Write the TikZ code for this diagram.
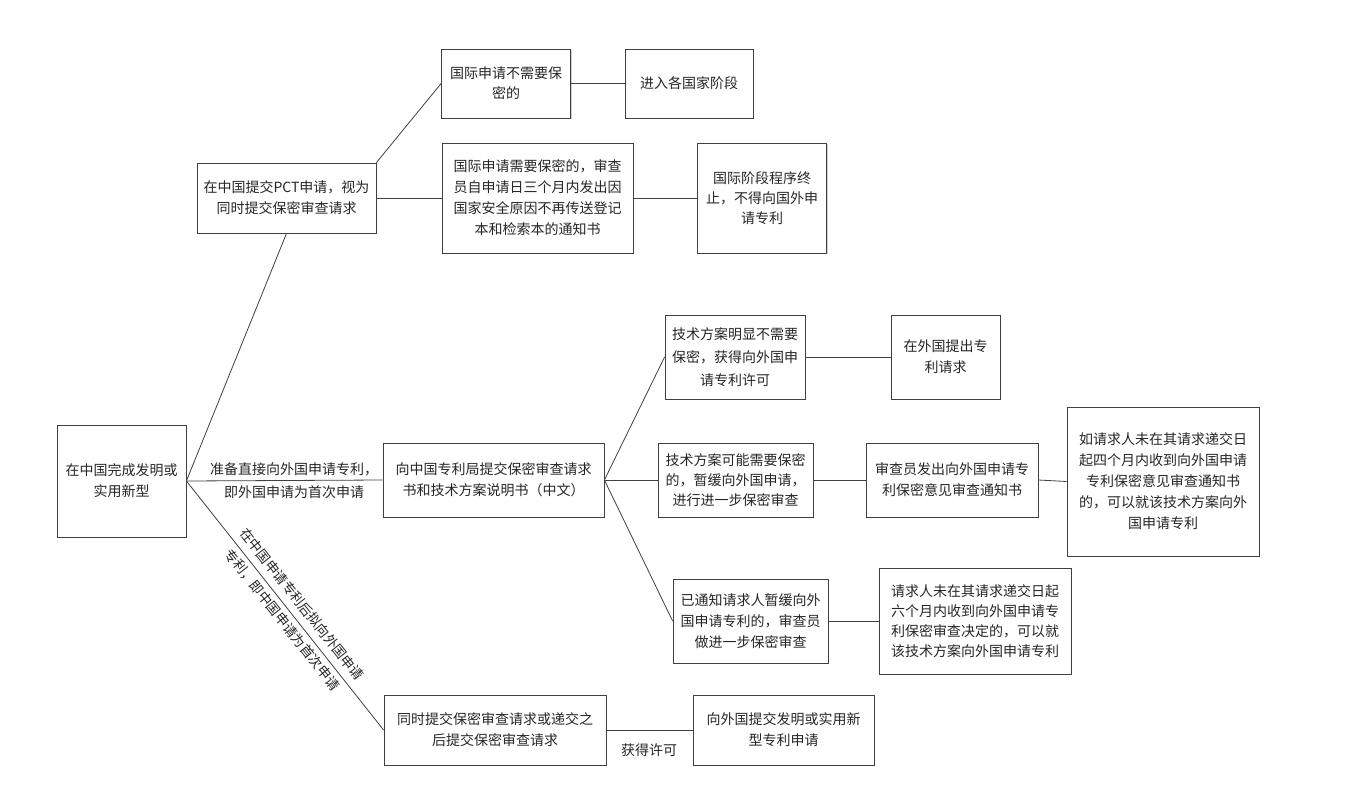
\documentclass[tikz,border=0pt]{standalone}
\usepackage{fontspec}
\newfontfamily\cjk{Noto Sans CJK SC}
\usetikzlibrary{shadows}
\begin{document}
\begin{tikzpicture}[x=1pt,y=-1pt,
  box/.style={draw=black!75, line width=0.8pt, fill=white, align=center, inner sep=1pt,
    font=\cjk\fontsize{14}{21}\selectfont, text=black!85,
    drop shadow={shadow xshift=1.3pt, shadow yshift=-1.3pt, opacity=0.3, fill=black!60}},
  lab/.style={align=center, inner sep=0pt, font=\cjk\fontsize{14}{21}\selectfont, text=black!85},
  conn/.style={draw=black!75, line width=0.8pt}]
\useasboundingbox[fill=white] (0,0) rectangle (1351,810);

\node[box, minimum width=129pt, minimum height=112pt] (root) at (121.5,481) {在中国完成发明或\\实用新型};
\node[box, minimum width=179pt, minimum height=70pt] (pct) at (286.5,198) {在中国提交PCT申请，视为\\同时提交保密审查请求};
\node[box, minimum width=129pt, minimum height=69pt, font=\cjk\fontsize{14}{20}\selectfont] (a1) at (506,83.5) {国际申请不需要保\\密的};
\node[box, minimum width=128pt, minimum height=69pt] (a2) at (689,83.5) {进入各国家阶段};
\node[box, minimum width=191pt, minimum height=110pt] (b1) at (537.5,198) {国际申请需要保密的，审查\\员自申请日三个月内发出因\\国家安全原因不再传送登记\\本和检索本的通知书};
\node[box, minimum width=129pt, minimum height=110pt, font=\cjk\fontsize{14}{20}\selectfont] (b2) at (762,198) {国际阶段程序终\\止，不得向国外申\\请专利};
\node[box, minimum width=221pt, minimum height=74pt] (mid) at (493.5,480) {向中国专利局提交保密审查请求\\书和技术方案说明书（中文）};
\node[box, minimum width=140pt, minimum height=84pt, font=\cjk\fontsize{14}{23}\selectfont] (c1) at (735,357) {技术方案明显不需要\\保密，获得向外国申\\请专利许可};
\node[box, minimum width=109pt, minimum height=84pt] (c2) at (945.5,357) {在外国提出专\\利请求};
\node[box, minimum width=155pt, minimum height=74pt, font=\cjk\fontsize{14}{20}\selectfont] (d1) at (735.5,480) {技术方案可能需要保密\\的，暂缓向外国申请，\\进行进一步保密审查};
\node[box, minimum width=172pt, minimum height=74pt] (d2) at (952,480) {审查员发出向外国申请专\\利保密意见审查通知书};
\node[box, minimum width=192pt, minimum height=149pt] (d3) at (1163,481.5) {如请求人未在其请求递交日\\起四个月内收到向外国申请\\专利保密意见审查通知书\\的，可以就该技术方案向外\\国申请专利};
\node[box, minimum width=155pt, minimum height=84pt] (e1) at (750.5,621) {已通知请求人暂缓向外\\国申请专利的，审查员\\做进一步保密审查};
\node[box, minimum width=192pt, minimum height=106pt, font=\cjk\fontsize{14}{20}\selectfont] (e2) at (975,621) {请求人未在其请求递交日起\\六个月内收到向外国申请专\\利保密审查决定的，可以就\\该技术方案向外国申请专利};
\node[box, minimum width=222pt, minimum height=70pt] (f1) at (495,730) {同时提交保密审查请求或递交之\\后提交保密审查请求};
\node[box, minimum width=181pt, minimum height=70pt] (f2) at (783.5,730) {向外国提交发明或实用新\\型专利申请};

\draw[conn] (root.east) -- (pct.south);
\draw[conn] (pct.north east) -- (a1.west);
\draw[conn] (pct.east) -- (b1.west);
\draw[conn] (a1.east) -- (a2.west);
\draw[conn] (b1.east) -- (b2.west);
\draw[conn] (root.east) -- (mid.west);
\draw[conn] (root.east) -- (f1.west);
\draw[conn] (mid.east) -- (c1.west);
\draw[conn] (mid.east) -- (d1.west);
\draw[conn] (mid.east) -- (e1.west);
\draw[conn] (c1.east) -- (c2.west);
\draw[conn] (d1.east) -- (d2.west);
\draw[conn] (d2.east) -- (d3.west);
\draw[conn] (e1.east) -- (e2.west);
\draw[conn] (f1.east) -- (f2.west);

\node[lab, font=\cjk\fontsize{14}{23}\selectfont] (l1) at (294,481) {准备直接向外国申请专利，\\即外国申请为首次申请};
\node[lab, rotate=-51.6, font=\cjk\fontsize{13.5}{25}\selectfont] (l2) at (292,612) {在中国申请专利后拟向外国申请\\专利，即中国申请为首次申请};
\node[lab] (l3) at (649,750) {获得许可};
\end{tikzpicture}
\end{document}
